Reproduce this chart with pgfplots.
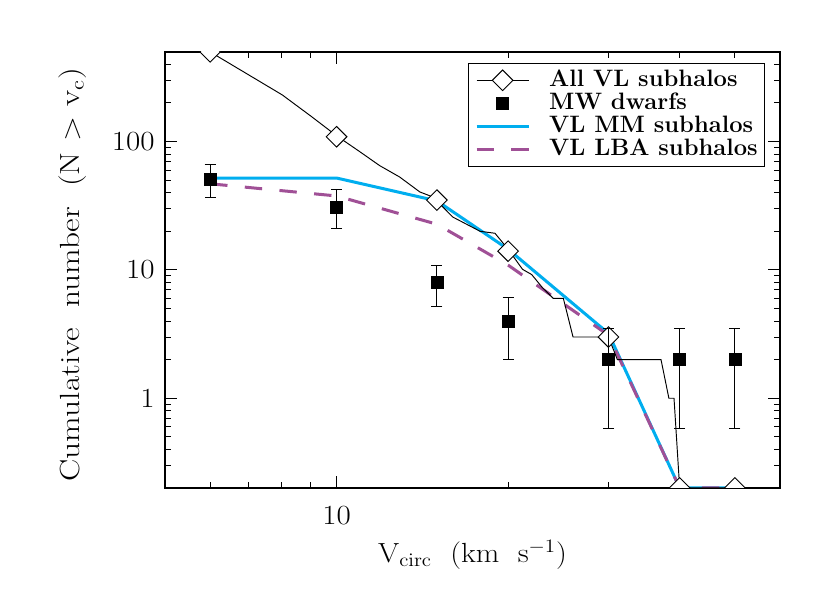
\documentclass[border=0pt]{standalone}
\usepackage{pgfplots}
\pgfplotsset{compat=1.18}
\definecolor{mmblue}{RGB}{0,174,239}
\definecolor{lbapurple}{RGB}{160,80,150}
\newcommand{\wide}[2][1.2]{\scalebox{#1}[1]{#2}}

\begin{document}
\begin{tikzpicture}
\useasboundingbox (-104.3pt,-66.4pt) rectangle (420.3pt,308.4pt);
\begin{axis}[
    scale only axis,
    width=388.7pt, height=275.6pt,
    xmode=log, ymode=log,
    xmin=5, xmax=60, ymin=0.2, ymax=500,
    xtick={10}, xticklabels={\wide[1.12]{10}},
    minor xtick={6,7,8,9,20,30,40,50},
    ytick={1,10,100}, yticklabels={\wide[1.12]{1},\wide[1.12]{10},\wide[1.12]{100}},
    minor ytick={0.3,0.4,0.5,0.6,0.7,0.8,0.9,2,3,4,5,6,7,8,9,20,30,40,50,60,70,80,90,200,300,400},
    tick align=inside,
    major tick length=7.5pt, minor tick length=3.8pt,
    every tick/.style={black, line width=0.6pt},
    axis line style={line width=0.8pt},
    clip marker paths=true,
    tick label style={font=\fontsize{17.5}{20}\selectfont},
    label style={font=\fontsize{17.5}{20}\selectfont},
    xticklabel style={yshift=-8pt},
    yticklabel style={xshift=-3pt},
    xlabel={\wide[1.1]{V$_{\rm circ}$\ \ (km\ \ s$^{-1}$)}},
    ylabel={\wide[1.2]{Cumulative\ \ number\ \ (N\ $>$\ v$_{\rm c}$)}},
    xlabel style={at={(axis description cs:0.5,0)}, anchor=base, yshift=-47pt},
    ylabel style={at={(axis description cs:-0.139,0.489)}, anchor=base},
    legend image code/.code={\draw[mark repeat=2,mark phase=2,#1] plot coordinates {(0pt,0pt) (16.5pt,0pt) (33pt,0pt)};},
    legend cell align=left,
    legend style={at={(rel axis cs:0.493,0.975)}, anchor=north west,
        draw=black, line width=0.6pt,
        font=\fontsize{15}{17}\selectfont\bfseries,
        inner xsep=4pt, inner ysep=4pt, row sep=1pt,
        nodes={inner sep=0pt, text height=10.5pt, text depth=3pt}},
]
\addlegendimage{black, line width=0.6pt, mark=square*, mark size=4.6pt, mark options={rotate=45, fill=white, draw=black}}
\addlegendentry{\hspace*{12pt}All VL subhalos}
\addlegendimage{only marks, mark=square*, mark size=3.8pt, black}
\addlegendentry{\hspace*{12pt}MW dwarfs}
\addlegendimage{mmblue, line width=1.9pt}
\addlegendentry{\hspace*{12pt}VL MM subhalos}
\addlegendimage{lbapurple, line width=1.9pt, dash pattern=on 11pt off 11pt}
\addlegendentry{\hspace*{12pt}VL LBA subhalos}

% VL MM subhalos
\addplot[mmblue, line width=1.9pt, forget plot] coordinates {
    (6,52) (10,52) (15,34.5) (20,14.5) (30,3.2) (40,0.2) (50,0.2)
};
% VL LBA subhalos
\addplot[lbapurple, line width=1.9pt, dash pattern=on 11pt off 11pt, forget plot] coordinates {
    (6,46.9) (10,37.7) (15,22.7) (20,10.9) (30,3.1) (40,0.2) (50,0.2)
};
% all VL subhalos, cumulative curve
\addplot[black, line width=0.6pt, forget plot] coordinates {
    (6,500) (8.03,231) (9.03,157) (10,111) (10.98,83.5) (11.9,65) (12.9,53)
    (14.0,40.5) (14.76,37) (16.0,25.8) (17.86,20) (18.97,19.3) (20,14.5)
    (21.2,10.1) (22,9.2) (22.96,7.3) (24,6) (25,6) (26,3) (30,3) (31.1,2)
    (37.1,2) (38.3,1) (39.1,1) (40,0.2) (50,0.2)
};
\addplot[only marks, mark=square*, mark size=4.6pt,
    mark options={rotate=45, fill=white, draw=black, line width=0.6pt}, forget plot] coordinates {
    (6,500) (10,109) (15,35) (20,14) (30,3) (40,0.2) (50,0.2)
};
% MW dwarfs
\addplot[black, only marks, mark=square*, mark size=3.8pt, forget plot,
    error bars/.cd, y dir=both, y explicit, error mark=-,
    error bar style={line width=0.6pt, black},
    error mark options={line width=0.6pt, mark size=3.5pt, rotate=90, black}]
    table[x=x, y=y, y error plus=ep, y error minus=em] {
    x  y  ep   em
    6  51 15   14
    10 31 11   10
    15 8  2.8  2.8
    20 4  2.1  2.0
    30 2  1.5  1.42
    40 2  1.5  1.42
    50 2  1.5  1.42
};
\end{axis}
\end{tikzpicture}
\end{document}
